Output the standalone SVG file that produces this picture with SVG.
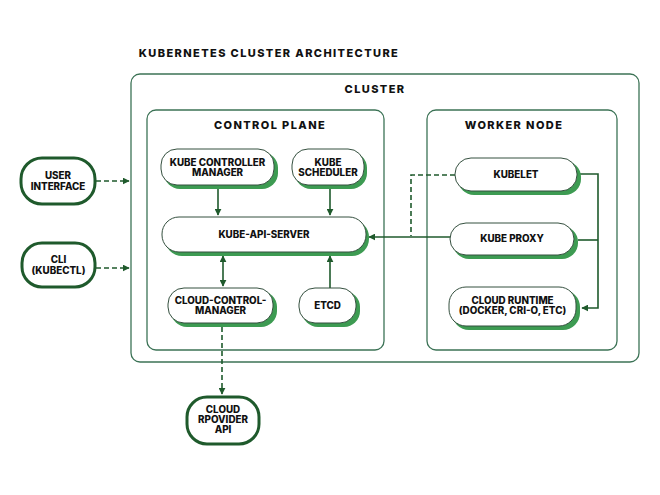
<svg xmlns="http://www.w3.org/2000/svg" width="660" height="495" viewBox="0 0 660 495">
<defs>
<style>
.t{font-family:Inter,"Liberation Sans",sans-serif;font-weight:800;fill:#111;text-anchor:middle}
.h{font-size:11px;letter-spacing:1.4px}
.n{font-size:9.8px}
.box{fill:none;stroke:#3c7356;stroke-width:1.3}
.sh{fill:#3d9b52}
.nd{fill:#fff;stroke:#35503f;stroke-width:1}
.ext{fill:#fff;stroke:#1f5a2c;stroke-width:3}
.c{fill:none;stroke:#1f5a2c;stroke-width:1.6}
.d{stroke-dasharray:5 3}
</style>
<marker id="ah" viewBox="0 0 10 10" refX="9" refY="5" markerWidth="7" markerHeight="7" orient="auto-start-reverse" markerUnits="userSpaceOnUse">
<path d="M0,0L10,5L0,10z" fill="#1f5a2c"/>
</marker>
</defs>
<rect width="660" height="495" fill="#fff"/>
<text class="t h" x="269" y="57">KUBERNETES CLUSTER ARCHITECTURE</text>

<g id="cluster">
<rect class="box" x="131" y="74" width="508" height="288" rx="9"/>
<text class="t h" x="375" y="93">CLUSTER</text>
</g>
<g id="control-plane">
<rect class="box" x="147" y="110" width="237" height="240" rx="9"/>
<text class="t h" x="270" y="129">CONTROL PLANE</text>
</g>
<g id="worker-node">
<rect class="box" x="427" y="110" width="190" height="240" rx="9"/>
<text class="t h" x="514" y="129">WORKER NODE</text>
</g>

<g id="connectors">
<path class="c d" d="M96,181H129" marker-end="url(#ah)"/>
<path class="c d" d="M96,268H129" marker-end="url(#ah)"/>
<path class="c" d="M218,189V215" marker-end="url(#ah)"/>
<path class="c" d="M330,189V215" marker-end="url(#ah)"/>
<path class="c" d="M223,256V286" marker-start="url(#ah)" marker-end="url(#ah)"/>
<path class="c" d="M330,288V256" marker-end="url(#ah)"/>
<path class="c" d="M450,237H369" marker-end="url(#ah)"/>
<path class="c d" d="M455,175H411V236"/>
<path class="c" d="M580,174H598V308H582" marker-end="url(#ah)"/>
<path class="c" d="M578,240H598"/>
<path class="c d" d="M222,327V394" marker-end="url(#ah)"/>
</g>

<g id="user-interface">
<rect class="ext" x="21" y="158" width="74" height="46" rx="21"/>
<text class="t n" x="58" y="179">USER</text>
<text class="t n" x="58" y="190">INTERFACE</text>
</g>
<g id="cli">
<rect class="ext" x="22" y="243" width="73" height="44" rx="20"/>
<text class="t n" x="58.5" y="263">CLI</text>
<text class="t n" x="58.5" y="274">(KUBECTL)</text>
</g>

<g id="kube-controller-manager">
<rect class="sh" x="164" y="152" width="114" height="37" rx="16"/>
<rect class="nd" x="161" y="149" width="113" height="36" rx="16"/>
<text class="t n" x="217.5" y="166">KUBE CONTROLLER</text>
<text class="t n" x="217.5" y="176">MANAGER</text>
</g>
<g id="kube-scheduler">
<rect class="sh" x="295" y="152" width="72" height="37" rx="16"/>
<rect class="nd" x="292" y="149" width="72" height="36" rx="16"/>
<text class="t n" x="328" y="166">KUBE</text>
<text class="t n" x="328" y="176">SCHEDULER</text>
</g>
<g id="kube-api-server">
<rect class="sh" x="165" y="220" width="204" height="36" rx="17"/>
<rect class="nd" x="162" y="217" width="204" height="35" rx="17"/>
<text class="t n" x="264" y="238">KUBE-API-SERVER</text>
</g>
<g id="cloud-control-manager">
<rect class="sh" x="171" y="291" width="106" height="36" rx="16"/>
<rect class="nd" x="168" y="288" width="105" height="35" rx="16"/>
<text class="t n" x="220.5" y="304">CLOUD-CONTROL-</text>
<text class="t n" x="220.5" y="314">MANAGER</text>
</g>
<g id="etcd">
<rect class="sh" x="302" y="291" width="58" height="36" rx="16"/>
<rect class="nd" x="299" y="288" width="57" height="35" rx="16"/>
<text class="t n" x="327.5" y="309">ETCD</text>
</g>
<g id="cloud-provider-api">
<rect class="ext" x="187" y="397" width="72" height="47" rx="20"/>
<text class="t n" x="223" y="413">CLOUD</text>
<text class="t n" x="223" y="423">RPOVIDER</text>
<text class="t n" x="223" y="433">API</text>
</g>

<g id="kubelet">
<rect class="sh" x="458" y="161" width="123" height="34" rx="16"/>
<rect class="nd" x="455" y="158" width="122" height="33" rx="16"/>
<text class="t n" x="516" y="178">KUBELET</text>
</g>
<g id="kube-proxy">
<rect class="sh" x="453" y="226" width="125" height="33" rx="16"/>
<rect class="nd" x="450" y="223" width="124" height="32" rx="16"/>
<text class="t n" x="512" y="242">KUBE PROXY</text>
</g>
<g id="cloud-runtime">
<rect class="sh" x="452" y="290" width="128" height="40" rx="17"/>
<rect class="nd" x="449" y="287" width="127" height="39" rx="17"/>
<text class="t n" x="512.5" y="304">CLOUD RUNTIME</text>
<text class="t n" x="512.5" y="314">(DOCKER, CRI-O, ETC)</text>
</g>
</svg>
